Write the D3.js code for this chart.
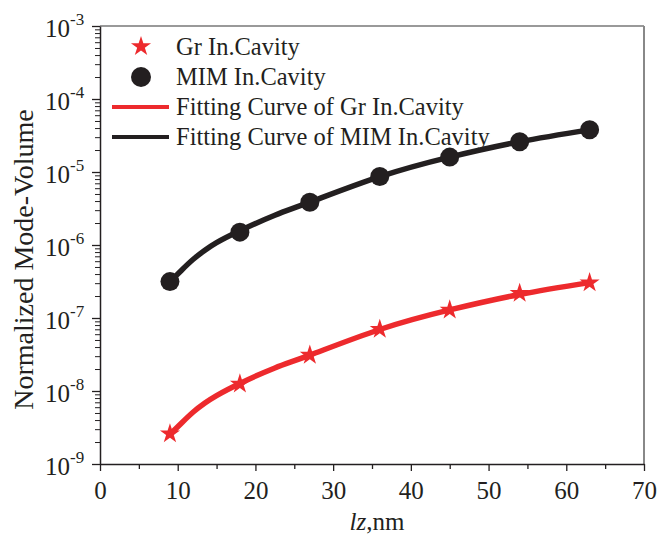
<!DOCTYPE html>
<html>
<head>
<meta charset="utf-8">
<script src="https://cdn.jsdelivr.net/npm/d3@7"></script>
<style>
  body { margin: 0; background: #fff; }
  svg text { font-family: "Liberation Serif", "DejaVu Serif", "Times New Roman", Times, serif; }
</style>
</head>
<body>
<div id="chart"></div>
<script>
const LZ = [9, 18, 27, 36, 45, 54, 63];
const GR = [2.6e-9, 1.25e-8, 3.1e-8, 7.0e-8, 1.29e-7, 2.18e-7, 3.05e-7];
const MIM = [3.15e-7, 1.5e-6, 3.85e-6, 8.7e-6, 1.6e-5, 2.6e-5, 3.8e-5];
// fitting curves
const FIT_LZ = [9, 10.5, 12, 13.5, 15, 18, 22.5, 27, 36, 45, 54, 63];
const FIT_GR = [2.54e-9, 3.65e-9, 5.16e-9, 6.85e-9, 8.67e-9, 1.27e-8, 2.07e-8, 3.1e-8, 6.96e-8, 1.29e-7, 2.1e-7, 3.05e-7];
const FIT_MIM = [3.14e-7, 4.52e-7, 6.38e-7, 8.49e-7, 1.08e-6, 1.57e-6, 2.56e-6, 3.86e-6, 8.63e-6, 1.6e-5, 2.6e-5, 3.78e-5];
const X_TICKS = [0, 10, 20, 30, 40, 50, 60, 70];
const Y_EXP = [-9, -8, -7, -6, -5, -4, -3];
const LEGEND = ['Gr In.Cavity', 'MIM In.Cavity', 'Fitting Curve of Gr In.Cavity', 'Fitting Curve of MIM In.Cavity'];

const FONT = '"Liberation Serif", "DejaVu Serif", "Times New Roman", Times, serif';
const RED = '#ed2a2d', BLACK = '#231f20';
const W = 659, H = 536;
const margin = { top: 26, right: 15, bottom: 72, left: 100 };
const w = W - margin.left - margin.right;
const h = H - margin.top - margin.bottom;

const svg = d3.select('#chart').append('svg').attr('width', W).attr('height', H)
  .attr('font-family', FONT);
const g = svg.append('g').attr('transform', `translate(${margin.left},${margin.top})`);

const x = d3.scaleLinear().domain([0, 70]).range([0, w]);
const y = d3.scaleLog().domain([1e-9, 1e-3]).range([h, 0]);

// frame (top / right in grey)
g.append('line').attr('x1', 0).attr('x2', w).attr('y1', 0).attr('y2', 0)
  .attr('stroke', '#777').attr('stroke-width', 1.5);
g.append('line').attr('x1', w).attr('x2', w).attr('y1', 0).attr('y2', h)
  .attr('stroke', '#888').attr('stroke-width', 2);

// x axis: major + minor ticks
const minorX = d3.range(5, 70, 10);
g.append('g').attr('transform', `translate(0,${h})`)
  .call(d3.axisBottom(x).tickValues(minorX).tickSize(5).tickFormat(''))
  .call(a => a.select('.domain').remove())
  .call(a => a.selectAll('line').attr('stroke', BLACK).attr('stroke-width', 1.3));
const xAx = g.append('g').attr('transform', `translate(0,${h})`)
  .call(d3.axisBottom(x).tickValues(X_TICKS).tickSize(7).tickSizeOuter(0).tickPadding(10));
xAx.attr('font-family', FONT);
xAx.select('.domain').attr('stroke', BLACK).attr('stroke-width', 1.5);
xAx.selectAll('line').attr('stroke', BLACK).attr('stroke-width', 1.3);
xAx.selectAll('text').attr('font-size', 25).attr('fill', BLACK).attr('font-family', FONT);

// y axis: decades + minor log ticks
const majorY = Y_EXP.map(e => Math.pow(10, e));
const minorY = [];
Y_EXP.slice(0, -1).forEach(e => d3.range(2, 10).forEach(k => minorY.push(k * Math.pow(10, e))));
g.append('g')
  .call(d3.axisLeft(y).tickValues(minorY).tickSize(5).tickFormat(''))
  .call(a => a.select('.domain').remove())
  .call(a => a.selectAll('line').attr('stroke', BLACK).attr('stroke-width', 1));
const yAx = g.append('g')
  .call(d3.axisLeft(y).tickValues(majorY).tickSize(8).tickSizeOuter(0).tickFormat(''));
yAx.select('.domain').attr('stroke', BLACK).attr('stroke-width', 1.5);
yAx.selectAll('line').attr('stroke', BLACK).attr('stroke-width', 1.3);

g.append('g').selectAll('text').data(Y_EXP).join('text')
  .attr('x', -30).attr('y', e => y(Math.pow(10, e)) + 11)
  .attr('text-anchor', 'end').attr('font-size', 25).attr('fill', BLACK).text('10');
g.append('g').selectAll('text').data(Y_EXP).join('text')
  .attr('x', -30).attr('y', e => y(Math.pow(10, e)) - 1)
  .attr('font-size', 17).attr('fill', BLACK).text(e => '-' + Math.abs(e));

// axis titles
const xt = svg.append('text').attr('x', margin.left + w / 2 + 5).attr('y', 530)
  .attr('text-anchor', 'middle').attr('font-size', 25).attr('fill', BLACK);
xt.append('tspan').attr('font-style', 'italic').text('lz');
xt.append('tspan').text(',nm');

svg.append('text').attr('transform', 'translate(33,259.5) rotate(-90)')
  .attr('text-anchor', 'middle').attr('font-size', 28).attr('fill', BLACK)
  .text('Normalized Mode-Volume');

// fitting curves
const line = d3.line()
  .x((d, i) => x(FIT_LZ[i])).y(d => y(d))
  .curve(d3.curveNatural);

g.append('path').attr('d', line(FIT_GR)).attr('fill', 'none')
  .attr('stroke', RED).attr('stroke-width', 5.5);
g.append('path').attr('d', line(FIT_MIM)).attr('fill', 'none')
  .attr('stroke', BLACK).attr('stroke-width', 5.5);

// markers
const star = d3.symbol().type(d3.symbolStar).size(125);
g.append('g').selectAll('path').data(GR).join('path')
  .attr('d', star)
  .attr('transform', (d, i) => `translate(${x(LZ[i])},${y(d)})`)
  .attr('fill', RED);
g.append('g').selectAll('circle').data(MIM).join('circle')
  .attr('cx', (d, i) => x(LZ[i])).attr('cy', d => y(d)).attr('r', 9.5)
  .attr('fill', BLACK);

// legend
const lg = svg.append('g');
const rowY = [46.5, 77, 107, 137];
lg.append('path').attr('d', star).attr('transform', `translate(141,${rowY[0]})`).attr('fill', RED);
lg.append('circle').attr('cx', 141).attr('cy', rowY[1]).attr('r', 10).attr('fill', BLACK);
lg.append('line').attr('x1', 112).attr('x2', 169).attr('y1', rowY[2]).attr('y2', rowY[2])
  .attr('stroke', RED).attr('stroke-width', 4);
lg.append('line').attr('x1', 112).attr('x2', 169).attr('y1', rowY[3]).attr('y2', rowY[3])
  .attr('stroke', BLACK).attr('stroke-width', 4);
lg.selectAll('text').data(LEGEND).join('text')
  .attr('x', 176).attr('y', (d, i) => rowY[i] + 8)
  .attr('font-size', 24.5).attr('fill', BLACK).text(d => d);
</script>
</body>
</html>
